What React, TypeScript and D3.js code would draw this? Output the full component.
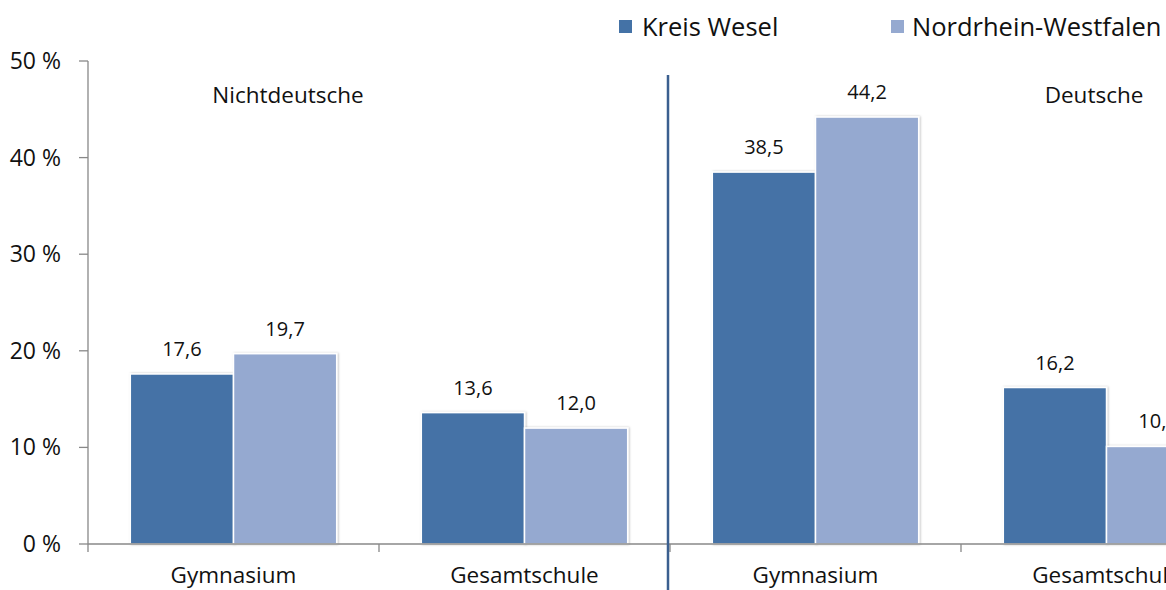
import React from "react";
import * as d3 from "d3";

const categories = ["Gymnasium", "Gesamtschule", "Gymnasium ", "Gesamtschule "];
const catLabels = ["Gymnasium", "Gesamtschule", "Gymnasium", "Gesamtschule"];
const seriesNames = ["Kreis Wesel", "Nordrhein-Westfalen"];
const kreisWesel = [17.6, 13.6, 38.5, 16.2];
const nrw = [19.7, 12.0, 44.2, 10.1];
const yTicks = [0, 10, 20, 30, 40, 50];
const colors = ["#4472A6", "#95A9D0"];
const fmt = (v: number) => v.toFixed(1).replace(".", ",");

export default function App() {
  const W = 1166, H = 590;
  const x0 = 88, plotRight = 88 + 4 * 291;
  const y = d3.scaleLinear().domain([0, 50]).range([544, 61]);
  const x = d3.scaleBand<string>().domain(categories).range([x0, plotRight]).paddingInner(0).paddingOuter(0);
  const inner = d3.scaleBand<string>().domain(seriesNames).range([0, x.bandwidth()]).paddingOuter(0.41).paddingInner(0);
  const series = [kreisWesel, nrw];
  const font = "'Open Sans', sans-serif";
  return (
    <svg width={W} height={H} style={{ position: "absolute", left: 0, top: 0, fontFamily: font }}>
      <defs>
        <filter id="sh" x="-10%" y="-10%" width="120%" height="120%">
          <feDropShadow dx="1" dy="0" stdDeviation="1.2" floodColor="#000" floodOpacity="0.25" />
        </filter>
      </defs>
      <rect width={W} height={H} fill="#fff" />
      <line x1={x0} x2={x0} y1={y(50)} y2={y(0)} stroke="#888" strokeWidth={1.3} />
      {yTicks.map((t) => (
        <g key={t}>
          <line x1={x0 - 9} x2={x0} y1={y(t)} y2={y(t)} stroke="#888" strokeWidth={1.3} />
          <text x={61} y={y(t)} dy="0.35em" textAnchor="end" fontSize={23} fill="#111">{`${t} %`}</text>
        </g>
      ))}
      {categories.map((c, i) => (
        <g key={c}>
          {series.map((s, j) => {
            const bx = (x(c) as number) + (inner(seriesNames[j]) as number);
            return (
              <g key={j}>
                <rect x={bx} y={y(s[i])} width={inner.bandwidth()} height={y(0) - y(s[i])}
                  fill={colors[j]} stroke="#fff" strokeWidth={1.5} filter="url(#sh)" />
                <text x={bx + inner.bandwidth() / 2} y={y(s[i]) - 25} dy="0.35em" textAnchor="middle" fontSize={20} fill="#111">{fmt(s[i])}</text>
              </g>
            );
          })}
        </g>
      ))}
      <line x1={x0} x2={plotRight} y1={y(0)} y2={y(0)} stroke="#888" strokeWidth={1.3} />
      {[0, 1, 2, 3, 4].map((k) => {
        const tx = x0 + k * x.step();
        return <line key={k} x1={tx} x2={tx} y1={y(0)} y2={y(0) + 8} stroke="#888" strokeWidth={1.3} />;
      })}
      {categories.map((c, i) => (
        <text key={c} x={(x(c) as number) + x.bandwidth() / 2} y={575} dy="0.35em" textAnchor="middle" fontSize={22.5} fill="#111">{catLabels[i]}</text>
      ))}
      <line x1={668} x2={668} y1={75} y2={590} stroke="#3B5F8F" strokeWidth={2.5} />
      <text x={288} y={95} dy="0.35em" textAnchor="middle" fontSize={22.5} fill="#111">Nichtdeutsche</text>
      <text x={1094} y={95} dy="0.35em" textAnchor="middle" fontSize={22.5} fill="#111">Deutsche</text>
      <rect x={619} y={20} width={13} height={13} fill={colors[0]} />
      <text x={642} y={27} dy="0.35em" fontSize={25.5} fill="#111">{seriesNames[0]}</text>
      <rect x={891} y={20} width={13} height={13} fill={colors[1]} />
      <text x={912} y={27} dy="0.35em" fontSize={25.5} fill="#111">{seriesNames[1]}</text>
    </svg>
  );
}
